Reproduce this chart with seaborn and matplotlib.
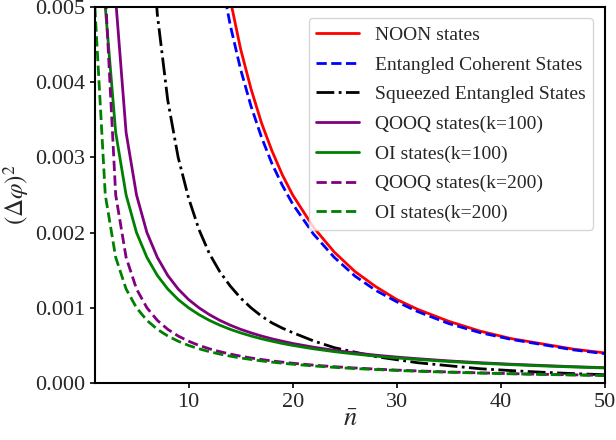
import numpy as np
import pandas as pd
import matplotlib
matplotlib.use('Agg')
import matplotlib.pyplot as plt
import seaborn as sns

nan = np.nan
# 横轴 平均光子数
nbar = [1, 2, 3, 4, 5, 6, 7, 8, 9, 10, 11, 12, 13, 14, 15, 16, 17, 18, 19, 20,
        22, 24, 26, 28, 30, 32, 35, 38, 41, 44, 47, 50]

noon = [nan, nan, nan, nan, nan, nan, nan, nan, nan, nan, nan, 0.00694, 0.00592, 0.00510,
        0.00444, 0.00391, 0.00346, 0.00309, 0.00277, 0.00250,
        0.00207, 0.00174, 0.00148, 0.00128, 0.00111, 0.00098, 0.00082, 0.00069, 0.00059,
        0.00052, 0.00045, 0.00040]
ecs = [nan, nan, nan, nan, nan, nan, nan, nan, nan, nan, nan, 0.00641, 0.00549, 0.00476,
       0.00417, 0.00368, 0.00327, 0.00292, 0.00263, 0.00238,
       0.00198, 0.00167, 0.00142, 0.00123, 0.00108, 0.00095, 0.00079, 0.00067, 0.00058,
       0.00051, 0.00044, 0.00039]
ses = [nan, nan, nan, nan, nan, 0.0067, 0.0049, 0.00376, 0.0030, 0.00246, 0.00204, 0.00172,
       0.00148, 0.00129, 0.00113, 0.00100, 0.00089, 0.00080, 0.00073, 0.00067,
       0.00056, 0.00047, 0.00041, 0.00035, 0.00031, 0.00027, 0.00023, 0.00019, 0.000165,
       0.000143, 0.000125, 0.00011]
qooq100 = [nan, 0.01, 0.0051, 0.00333, 0.0025, 0.002, 0.00167, 0.00143, 0.00125, 0.00111,
           0.001, 0.000909, 0.000833, 0.000769, 0.000714, 0.000667, 0.000625, 0.000588,
           0.000556, 0.000526,
           0.000476, 0.000435, 0.0004, 0.00037, 0.000345, 0.000323, 0.000294, 0.00027,
           0.00025, 0.000233, 0.000217, 0.000204]
oi100 = [0.01, 0.005, 0.00333, 0.0025, 0.002, 0.00167, 0.00143, 0.00125, 0.00111, 0.001,
         0.000909, 0.000833, 0.000769, 0.000714, 0.000667, 0.000625, 0.000588, 0.000556,
         0.000526, 0.0005,
         0.000455, 0.000417, 0.000385, 0.000357, 0.000333, 0.000313, 0.000286, 0.000263,
         0.000244, 0.000227, 0.000213, 0.0002]
qooq200 = [nan, 0.0052, 0.0025, 0.00167, 0.00125, 0.001, 0.000833, 0.000714, 0.000625,
           0.000556, 0.0005, 0.000455, 0.000417, 0.000385, 0.000357, 0.000333, 0.000313,
           0.000294, 0.000278, 0.000263,
           0.000238, 0.000217, 0.0002, 0.000185, 0.000172, 0.000161, 0.000147, 0.000135,
           0.000125, 0.000116, 0.000109, 0.000102]
oi200 = [0.005, 0.0025, 0.00167, 0.00125, 0.001, 0.000833, 0.000714, 0.000625, 0.000556,
         0.0005, 0.000455, 0.000417, 0.000385, 0.000357, 0.000333, 0.000313, 0.000294,
         0.000278, 0.000263, 0.00025,
         0.000227, 0.000208, 0.000192, 0.000179, 0.000167, 0.000156, 0.000143, 0.000132,
         0.000122, 0.000114, 0.000106, 0.0001]

labels = ['NOON states', 'Entangled Coherent States', 'Squeezed Entangled States',
          'QOOQ states(k=100)', 'OI states(k=100)', 'QOOQ states(k=200)', 'OI states(k=200)']

sns.set_style('ticks')
plt.rcParams['font.family'] = ['Liberation Serif', 'DejaVu Serif']
plt.rcParams['mathtext.fontset'] = 'stix'

fig = plt.figure(figsize=(6.16, 4.4), dpi=100)
ax = fig.add_axes([0.154, 0.1295, 0.828, 0.855])

series = [noon, ecs, ses, qooq100, oi100, qooq200, oi200]
colors = ['red', 'blue', 'black', 'purple', 'green', 'purple', 'green']
styles = ['-', '--', '-.', '-', '-', '--', '--']
for i in range(len(series)):
    sns.lineplot(x=nbar, y=series[i], color=colors[i], linestyle=styles[i],
                 linewidth=2, label=labels[i], ax=ax)

ax.set_xlim(1, 50)
ax.set_ylim(0, 0.005)
ax.set_xticks([10, 20, 30, 40, 50])
ax.set_yticks([0, 0.001, 0.002, 0.003, 0.004, 0.005])
ax.set_yticklabels(['0.000', '0.001', '0.002', '0.003', '0.004', '0.005'])
ax.tick_params(labelsize=16, color='black', width=1.2)
for s in ax.spines.values():
    s.set_color('black')
    s.set_linewidth(1.5)
ax.set_xlabel(r'$\bar{n}$', fontsize=19, labelpad=-2)
ax.set_ylabel(r'$(\Delta\varphi)^2$', fontsize=18, labelpad=3)
ax.legend(loc='upper right', fontsize=14, handlelength=2.2, handletextpad=0.8,
          labelspacing=0.62, borderaxespad=0.6)

fig.savefig('out.png', dpi=100)
